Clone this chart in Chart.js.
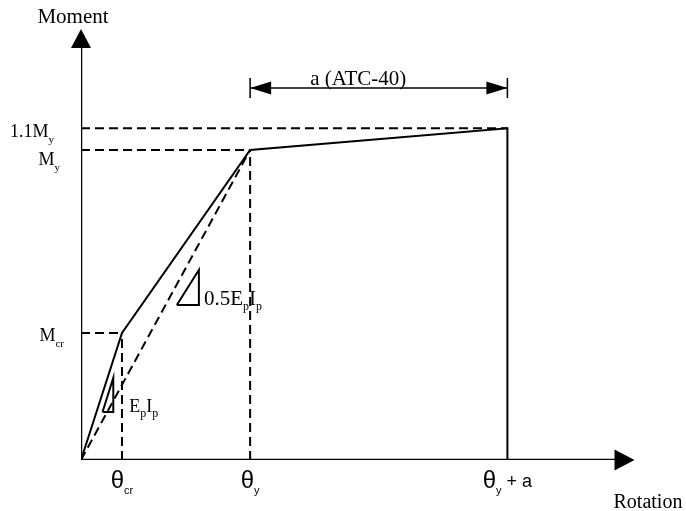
<!DOCTYPE html>
<html>
<head>
<meta charset="utf-8">
<script src="https://cdn.jsdelivr.net/npm/chart.js@4"></script>
<style>
  body { margin: 0; background: #fff; }
  canvas { display: block; }
</style>
</head>
<body>
<canvas id="myChart" width="686" height="511"></canvas>
<script>
// backbone of the moment-rotation curve (origin, cracking, yield, ultimate, drop)
var rotation = [0, 0.40, 1.65, 4.16, 4.16];
var moment = [0, 0.41, 1.00, 1.07, 0];

// tick labels: [symbol, subscript, suffix]
var xTickLabels = [['θ', 'cr', ''], ['θ', 'y', ''], ['θ', 'y', ' + a']];
var yTickLabels = [['M', 'cr'], ['M', 'y'], ['1.1M', 'y']];
var axisTitles = ['Rotation', 'Moment'];
var axisEnds = [5.4, 1.39];

// slope markers (little triangles) in data units
var slopeSmallX = [0.21, 0.315, 0.315, 0.21];
var slopeSmallY = [0.155, 0.265, 0.155, 0.155];
var slopeBigX = [0.935, 1.15, 1.15, 0.935];
var slopeBigY = [0.50, 0.613, 0.50, 0.50];
var slopeLabels = [['E', 'p', 'I', 'p'], ['0.5E', 'p', 'I', 'p']];

// dimension for the plastic rotation a
var dimLevel = 1.20;
var dimLabel = 'a (ATC-40)';

function pts(xs, ys) {
    return xs.map(function (x, i) { return { x: x, y: ys[i] }; });
}

function lineSet(data, width, dash) {
    return {
        data: data,
        showLine: true,
        borderColor: '#000',
        borderWidth: width,
        borderDash: dash || [],
        pointRadius: 0,
        fill: false,
        tension: 0
    };
}

var dash = [9, 5];
var datasets = [];
// axes
datasets.push(lineSet([{ x: 0, y: 0 }, { x: axisEnds[0] - 0.1, y: 0 }], 2.5));
datasets.push(lineSet([{ x: 0, y: 0 }, { x: 0, y: axisEnds[1] - 0.03 }], 2.5));
// dashed guides to cracking, yield and ultimate points
for (var i = 1; i <= 3; i++) {
    datasets.push(lineSet([{ x: 0, y: moment[i] }, { x: rotation[i], y: moment[i] }], 2, dash));
}
for (var j = 1; j <= 2; j++) {
    datasets.push(lineSet([{ x: rotation[j], y: 0 }, { x: rotation[j], y: moment[j] }], 2, dash));
}
// secant stiffness to yield
datasets.push(lineSet([{ x: 0, y: 0 }, { x: rotation[2], y: moment[2] }], 2, dash));
// backbone
datasets.push(lineSet(pts(rotation, moment), 2));
// slope triangles
datasets.push(lineSet(pts(slopeSmallX, slopeSmallY), 2));
datasets.push(lineSet(pts(slopeBigX, slopeBigY), 2));
// dimension line
datasets.push(lineSet([{ x: rotation[2], y: dimLevel }, { x: rotation[3], y: dimLevel }], 1.5));

var SERIF = '"Liberation Serif", "Times New Roman", serif';
var SANS = '"Liberation Sans", Arial, sans-serif';

function drawParts(ctx, parts, x, y, align) {
    var w = 0;
    parts.forEach(function (p) { ctx.font = p.f; w += ctx.measureText(p.t).width; });
    var cx = align === 'center' ? x - w / 2 : (align === 'right' ? x - w : x);
    ctx.textAlign = 'left';
    ctx.textBaseline = 'alphabetic';
    parts.forEach(function (p) {
        ctx.font = p.f;
        ctx.fillText(p.t, cx, y + (p.dy || 0));
        cx += ctx.measureText(p.t).width;
    });
}

function arrowHead(ctx, tx, ty, dx, dy, len, half) {
    var bx = tx - dx * len, by = ty - dy * len;
    ctx.beginPath();
    ctx.moveTo(tx, ty);
    ctx.lineTo(bx - dy * half, by + dx * half);
    ctx.lineTo(bx + dy * half, by - dx * half);
    ctx.closePath();
    ctx.fill();
}

var decorations = {
    id: 'decorations',
    afterDatasetsDraw: function (chart) {
        var ctx = chart.ctx;
        var xs = chart.scales.x, ys = chart.scales.y;
        var ox = xs.getPixelForValue(0), oy = ys.getPixelForValue(0);
        ctx.save();
        ctx.fillStyle = '#000';
        ctx.strokeStyle = '#000';

        // axis arrows
        var xt = xs.getPixelForValue(axisEnds[0]);
        var yt = ys.getPixelForValue(axisEnds[1]);
        arrowHead(ctx, xt, oy, 1, 0, 20, 10.5);
        arrowHead(ctx, ox, yt, 0, -1, 19, 10);

        // dimension arrows and end ticks
        var d1 = xs.getPixelForValue(rotation[2]);
        var d2 = xs.getPixelForValue(rotation[3]);
        var dy = ys.getPixelForValue(dimLevel);
        arrowHead(ctx, d1, dy, -1, 0, 21, 6.5);
        arrowHead(ctx, d2, dy, 1, 0, 21, 6.5);
        ctx.lineWidth = 1.5;
        ctx.beginPath();
        ctx.moveTo(d1, dy - 10); ctx.lineTo(d1, dy + 10);
        ctx.moveTo(d2, dy - 10); ctx.lineTo(d2, dy + 10);
        ctx.stroke();
        drawParts(ctx, [{ t: dimLabel, f: '21px ' + SERIF }], d1 + 60, dy - 3, 'left');

        // axis titles
        drawParts(ctx, [{ t: axisTitles[1], f: '21px ' + SERIF }], ox - 8, yt - 6, 'center');
        drawParts(ctx, [{ t: axisTitles[0], f: '20px ' + SERIF }], xt - 21, oy + 48, 'left');

        // x tick labels
        xTickLabels.forEach(function (lab, k) {
            var px = xs.getPixelForValue(rotation[k + 1]);
            drawParts(ctx, [
                { t: lab[0], f: '24px ' + SANS },
                { t: lab[1], f: '11px ' + SANS, dy: 6 },
                { t: lab[2], f: '18px ' + SANS, dy: -1 }
            ], px, oy + 28, 'center');
        });

        // y tick labels
        var yRight = [64, 60, 54];
        var yShift = [8, 15, 8.5];
        yTickLabels.forEach(function (lab, k) {
            var py = ys.getPixelForValue(moment[k + 1]);
            drawParts(ctx, [
                { t: lab[0], f: '18px ' + SERIF },
                { t: lab[1], f: '11px ' + SERIF, dy: 6 }
            ], yRight[k], py + yShift[k], 'right');
        });

        // slope labels
        var sPos = [
            [xs.getPixelForValue(slopeSmallX[1]) + 16, ys.getPixelForValue(slopeSmallY[0])],
            [xs.getPixelForValue(slopeBigX[1]) + 5, ys.getPixelForValue(slopeBigY[0])]
        ];
        var sSize = [18, 21];
        slopeLabels.forEach(function (lab, k) {
            drawParts(ctx, [
                { t: lab[0], f: sSize[k] + 'px ' + SERIF },
                { t: lab[1], f: '12px ' + SERIF, dy: 5 },
                { t: lab[2], f: sSize[k] + 'px ' + SERIF },
                { t: lab[3], f: '12px ' + SERIF, dy: 5 }
            ], sPos[k][0], sPos[k][1], 'left');
        });
        ctx.restore();
    }
};

var ctx = document.getElementById('myChart').getContext('2d');
var myChart = new Chart(ctx, {
    type: 'scatter',
    data: { datasets: datasets },
    options: {
        responsive: false,
        animation: false,
        layout: { padding: { left: 81, right: 10.5, top: 10.5, bottom: 51 } },
        plugins: { legend: { display: false }, tooltip: { enabled: false } },
        scales: {
            x: { type: 'linear', min: 0, max: 5.8, display: false },
            y: { type: 'linear', min: 0, max: 1.45, display: false }
        }
    },
    plugins: [decorations]
});
</script>
</body>
</html>
